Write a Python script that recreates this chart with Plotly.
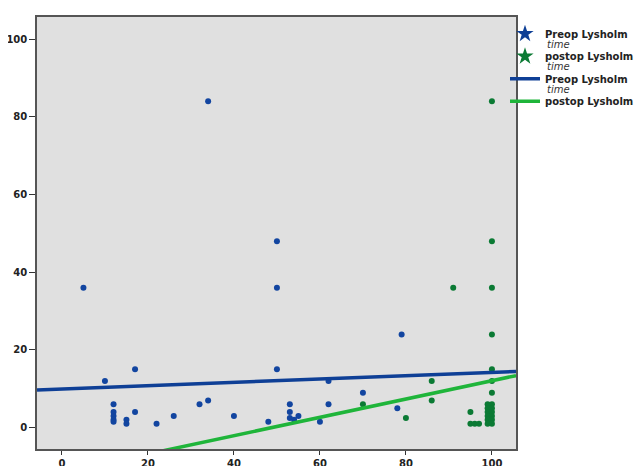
import plotly.graph_objects as go

# ---------------- data ----------------
preop_lysholm = [34, 50, 50, 5, 79, 17, 50, 10, 62, 70, 34, 12, 32, 53, 62, 78,
                 12, 17, 53, 12, 26, 40, 55, 12, 15, 53, 54, 12, 15, 22, 48, 60]
preop_time = [84, 48, 36, 36, 24, 15, 15, 12, 12, 9, 7, 6, 6, 6, 6, 5,
              4, 4, 4, 3, 3, 3, 3, 2, 2, 2.5, 2, 1.5, 1, 1, 1.5, 1.5]

postop_lysholm = [100, 100, 100, 91, 100, 100, 100, 86, 100, 86, 70, 100, 99, 99,
                  100, 99, 100, 95, 99, 100, 99, 100, 80, 95, 96, 97, 99, 100]
postop_time = [84, 48, 36, 36, 24, 15, 12, 12, 9, 7, 6, 6, 6, 5,
               5, 4, 4, 4, 3, 3, 2, 2, 2.5, 1, 1, 1, 1, 1]

# linear fit lines (intercept, slope)
preop_fit = (9.95, 0.0427)
postop_fit = (-11.5, 0.2357)

x_ticks = [0, 20, 40, 60, 80, 100]
y_ticks = [0, 20, 40, 60, 80, 100]
x_range = [-5.8, 105.6]
y_range = [-5.5, 105.7]

# ---------------- styles ----------------
BLUE_DOT = "#1245a0"
BLUE_LINE = "#0e3f96"
GREEN_DOT = "#0b7a34"
GREEN_LINE = "#1fb53a"
FONT = "DejaVu Sans"

# page body has an 8px margin, so the figure is 8px smaller than the window
W, H = 634, 458
ML, MR, MT, MB = 29, 126, 9, 17
PW, PH = W - ML - MR, H - MT - MB


def px_x(page_x):
    return (page_x - 8 - ML) / PW


def px_y(page_y):
    return 1 - (page_y - 8 - MT) / PH


fig = go.Figure()

fig.add_trace(go.Scatter(x=preop_lysholm, y=preop_time, mode="markers",
                         marker=dict(color=BLUE_DOT, size=6), showlegend=False))
fig.add_trace(go.Scatter(x=postop_lysholm, y=postop_time, mode="markers",
                         marker=dict(color=GREEN_DOT, size=6), showlegend=False))

fx = list(x_range)
fig.add_trace(go.Scatter(x=fx, y=[preop_fit[0] + preop_fit[1] * v for v in fx],
                         mode="lines", line=dict(color=BLUE_LINE, width=3.5),
                         showlegend=False))
fig.add_trace(go.Scatter(x=fx, y=[postop_fit[0] + postop_fit[1] * v for v in fx],
                         mode="lines", line=dict(color=GREEN_LINE, width=3.5),
                         showlegend=False))

# legend-only entries
fig.add_trace(go.Scatter(x=[None], y=[None], mode="markers", name="Preop Lysholm",
                         marker=dict(symbol="star", color=BLUE_LINE, size=13),
                         legendgroup="a"))
fig.add_trace(go.Scatter(x=[None], y=[None], mode="markers", name="postop Lysholm",
                         marker=dict(symbol="star", color=GREEN_DOT, size=13),
                         legendgroup="b"))
fig.add_trace(go.Scatter(x=[None], y=[None], mode="lines", name="Preop Lysholm",
                         line=dict(color=BLUE_LINE, width=3.5), legendgroup="c"))
fig.add_trace(go.Scatter(x=[None], y=[None], mode="lines", name="postop Lysholm",
                         line=dict(color=GREEN_LINE, width=3.5), legendgroup="d"))

axis_common = dict(showgrid=False, zeroline=False, showline=True, mirror=True,
                   linecolor="#555555", linewidth=1.5, ticks="outside",
                   tickcolor="#333333", tickwidth=1, automargin=False,
                   tickfont=dict(family=FONT, size=10, color="#222222", weight="bold"))

fig.update_xaxes(range=x_range, tickvals=x_ticks, ticklen=4, **axis_common)
fig.update_yaxes(range=y_range, tickvals=y_ticks, ticklen=6, **axis_common)

# "time" sub-labels for legend entries
for yy in [44, 66, 89.5]:
    fig.add_annotation(text="<i>time</i>", xref="paper", yref="paper",
                       x=px_x(545), y=px_y(yy),
                       xanchor="left", yanchor="middle", showarrow=False,
                       font=dict(family=FONT, size=10, color="#333333"))

fig.update_layout(
    width=W, height=H,
    margin=dict(l=ML, r=MR, t=MT, b=MB, autoexpand=False),
    paper_bgcolor="white", plot_bgcolor="#e0e0e0",
    legend=dict(x=px_x(505), y=px_y(19.3), xanchor="left", yanchor="top",
                bgcolor="rgba(0,0,0,0)", tracegroupgap=3.5,
                font=dict(family=FONT, size=10, color="#222222", weight="bold")),
)

fig.write_html("out.html")
